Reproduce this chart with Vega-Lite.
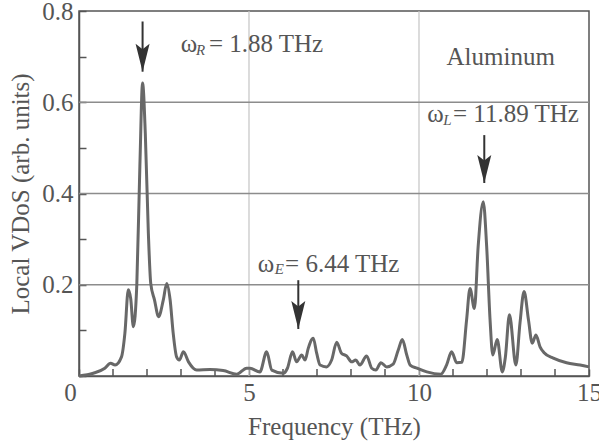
{
  "$schema": "https://vega.github.io/schema/vega-lite/v6.json",
  "width": 510,
  "height": 365,
  "autosize": "none",
  "padding": {"left": 79, "top": 11, "right": 10, "bottom": 72},
  "background": "white",
  "config": {
    "view": {"stroke": "#555555", "strokeWidth": 1.5},
    "font": "Liberation Serif",
    "axis": {
      "labelFont": "Liberation Serif",
      "titleFont": "Liberation Serif",
      "labelFontSize": 25,
      "titleFontSize": 25,
      "titleFontWeight": "normal",
      "labelColor": "#555555",
      "titleColor": "#555555",
      "domainColor": "#555555",
      "domainWidth": 1.5,
      "tickColor": "#555555",
      "tickWidth": 1.5,
      "labelOverlap": false,
      "grid": false
    }
  },
  "datasets": {
    "vdos": [
      {"f": 0, "v": 0}, {"f": 0.42, "v": 0.006}, {"f": 0.76, "v": 0.017}, {"f": 0.93, "v": 0.028},
      {"f": 1.06, "v": 0.024}, {"f": 1.25, "v": 0.042}, {"f": 1.35, "v": 0.094}, {"f": 1.45, "v": 0.189},
      {"f": 1.52, "v": 0.17}, {"f": 1.6, "v": 0.108}, {"f": 1.7, "v": 0.2}, {"f": 1.79, "v": 0.459},
      {"f": 1.87, "v": 0.642}, {"f": 1.95, "v": 0.532}, {"f": 2.04, "v": 0.313}, {"f": 2.11, "v": 0.203},
      {"f": 2.22, "v": 0.167}, {"f": 2.34, "v": 0.13}, {"f": 2.48, "v": 0.167}, {"f": 2.58, "v": 0.203},
      {"f": 2.68, "v": 0.167}, {"f": 2.77, "v": 0.094}, {"f": 2.87, "v": 0.042}, {"f": 2.95, "v": 0.035},
      {"f": 3.07, "v": 0.053}, {"f": 3.22, "v": 0.031}, {"f": 3.46, "v": 0.013}, {"f": 3.85, "v": 0.014},
      {"f": 4.24, "v": 0.012}, {"f": 4.64, "v": 0.004}, {"f": 4.93, "v": 0.017}, {"f": 5.03, "v": 0.017},
      {"f": 5.32, "v": 0.009}, {"f": 5.52, "v": 0.053}, {"f": 5.67, "v": 0.013}, {"f": 6.01, "v": 0.006},
      {"f": 6.13, "v": 0.017}, {"f": 6.28, "v": 0.053}, {"f": 6.4, "v": 0.031}, {"f": 6.55, "v": 0.046},
      {"f": 6.65, "v": 0.035}, {"f": 6.74, "v": 0.06}, {"f": 6.89, "v": 0.083}, {"f": 6.99, "v": 0.05},
      {"f": 7.09, "v": 0.024}, {"f": 7.28, "v": 0.02}, {"f": 7.43, "v": 0.035}, {"f": 7.58, "v": 0.074},
      {"f": 7.72, "v": 0.05}, {"f": 7.87, "v": 0.044}, {"f": 8.02, "v": 0.031}, {"f": 8.14, "v": 0.035},
      {"f": 8.26, "v": 0.024}, {"f": 8.46, "v": 0.044}, {"f": 8.61, "v": 0.017}, {"f": 8.73, "v": 0.013},
      {"f": 8.88, "v": 0.029}, {"f": 9.05, "v": 0.02}, {"f": 9.24, "v": 0.026}, {"f": 9.39, "v": 0.057},
      {"f": 9.51, "v": 0.08}, {"f": 9.64, "v": 0.046}, {"f": 9.74, "v": 0.024}, {"f": 9.94, "v": 0.017},
      {"f": 10.23, "v": 0.009}, {"f": 10.64, "v": 0.004}, {"f": 10.81, "v": 0.024}, {"f": 10.96, "v": 0.053},
      {"f": 11.11, "v": 0.029}, {"f": 11.26, "v": 0.03}, {"f": 11.4, "v": 0.123}, {"f": 11.5, "v": 0.192},
      {"f": 11.63, "v": 0.148}, {"f": 11.74, "v": 0.284}, {"f": 11.89, "v": 0.382}, {"f": 11.99, "v": 0.284},
      {"f": 12.09, "v": 0.123}, {"f": 12.17, "v": 0.046}, {"f": 12.3, "v": 0.08}, {"f": 12.45, "v": 0.009},
      {"f": 12.54, "v": 0.041}, {"f": 12.66, "v": 0.134}, {"f": 12.85, "v": 0.024}, {"f": 12.97, "v": 0.116},
      {"f": 13.09, "v": 0.185}, {"f": 13.22, "v": 0.123}, {"f": 13.33, "v": 0.072}, {"f": 13.44, "v": 0.09},
      {"f": 13.56, "v": 0.064}, {"f": 13.68, "v": 0.051}, {"f": 13.95, "v": 0.039}, {"f": 14.34, "v": 0.029},
      {"f": 14.74, "v": 0.024}, {"f": 15.0, "v": 0.02}
    ],
    "arrows": [
      {"f": 1.87, "top": 0.777, "tip": 0.667},
      {"f": 6.45, "top": 0.21, "tip": 0.103},
      {"f": 11.92, "top": 0.528, "tip": 0.423}
    ],
    "texts": [
      {"f": 2.99, "v": 0.711, "t": "ω", "kind": "main"},
      {"f": 3.44, "v": 0.704, "t": "R", "kind": "sub"},
      {"f": 3.82, "v": 0.711, "t": "= 1.88 THz", "kind": "main"},
      {"f": 5.26, "v": 0.228, "t": "ω", "kind": "main"},
      {"f": 5.76, "v": 0.224, "t": "E", "kind": "sub"},
      {"f": 6.06, "v": 0.228, "t": "= 6.44 THz", "kind": "main"},
      {"f": 10.24, "v": 0.557, "t": "ω", "kind": "main"},
      {"f": 10.71, "v": 0.55, "t": "L", "kind": "sub"},
      {"f": 11.0, "v": 0.557, "t": "= 11.89 THz", "kind": "main"},
      {"f": 10.81, "v": 0.682, "t": "Aluminum", "kind": "main"}
    ],
    "hgrid": [{"g": 0.2}, {"g": 0.4}, {"g": 0.6}],
    "vgrid": [{"g": 5}, {"g": 10}],
    "xminor": [{"g": 1}, {"g": 2}, {"g": 3}, {"g": 4}, {"g": 6}, {"g": 7}, {"g": 8}, {"g": 9},
               {"g": 11}, {"g": 12}, {"g": 13}, {"g": 14}]
  },
  "layer": [
    {
      "data": {"name": "vgrid"},
      "mark": {"type": "rule", "color": "#c4c4c4", "strokeWidth": 1.2},
      "encoding": {
        "x": {
          "field": "g", "type": "quantitative",
          "scale": {"domain": [0, 15], "nice": false},
          "axis": {
            "values": [0, 5, 10, 15],
            "format": "d",
            "labelOverlap": false,
            "labelBound": false,
            "tickSize": -7,
            "labelPadding": 11,
            "labelOffset": {"condition": {"test": "datum.value === 0", "value": -9}, "value": 0},
            "labelFlush": false,
            "title": "Frequency (THz)",
            "titlePadding": 9
          }
        }
      }
    },
    {
      "data": {"name": "hgrid"},
      "mark": {"type": "rule", "color": "#8c8c8c", "strokeWidth": 1.5},
      "encoding": {
        "y": {
          "field": "g", "type": "quantitative",
          "scale": {"domain": [0, 0.8], "nice": false},
          "axis": {
            "values": [0,0.05,0.1,0.15,0.2,0.25,0.3,0.35,0.4,0.45,0.5,0.55,0.6,0.65,0.7,0.75,0.8],
            "labelExpr": "datum.value > 0.01 && abs(datum.value * 5 - round(datum.value * 5)) < 0.001 ? format(datum.value, '.1f') : ''",
            "labelOverlap": false,
            "tickSize": -7,
            "labelPadding": 13,
            "title": "Local VDoS (arb. units)",
            "titlePadding": 8
          }
        }
      }
    },
    {
      "data": {"name": "xminor"},
      "mark": {"type": "tick", "orient": "vertical", "color": "#555555", "thickness": 1.5, "size": 7, "yOffset": -3.5, "opacity": 1},
      "encoding": {
        "x": {"field": "g", "type": "quantitative"},
        "y": {"datum": 0, "type": "quantitative"}
      }
    },
    {
      "data": {"name": "vdos"},
      "mark": {"type": "line", "color": "#686868", "strokeWidth": 3, "interpolate": "monotone"},
      "encoding": {
        "x": {"field": "f", "type": "quantitative"},
        "y": {"field": "v", "type": "quantitative"}
      }
    },
    {
      "data": {"name": "arrows"},
      "mark": {"type": "rule", "color": "#333333", "strokeWidth": 2},
      "encoding": {
        "x": {"field": "f", "type": "quantitative"},
        "y": {"field": "top", "type": "quantitative"},
        "y2": {"field": "tip"}
      }
    },
    {
      "data": {"name": "arrows"},
      "mark": {"type": "point", "filled": true, "color": "#333333", "opacity": 1, "size": 784, "strokeWidth": 0,
               "shape": "M0,0 L-0.5,-2 L0,-1.6 L0.5,-2 Z"},
      "encoding": {
        "x": {"field": "f", "type": "quantitative"},
        "y": {"field": "tip", "type": "quantitative"}
      }
    },
    {
      "data": {"name": "texts"},
      "transform": [{"filter": "datum.kind === 'main'"}],
      "mark": {"type": "text", "align": "left", "baseline": "alphabetic", "font": "Liberation Serif", "fontSize": 25, "color": "#555555"},
      "encoding": {
        "x": {"field": "f", "type": "quantitative"},
        "y": {"field": "v", "type": "quantitative"},
        "text": {"field": "t"}
      }
    },
    {
      "data": {"name": "texts"},
      "transform": [{"filter": "datum.kind === 'sub'"}],
      "mark": {"type": "text", "align": "left", "baseline": "alphabetic", "font": "Liberation Serif", "fontSize": 15, "fontStyle": "italic", "color": "#555555"},
      "encoding": {
        "x": {"field": "f", "type": "quantitative"},
        "y": {"field": "v", "type": "quantitative"},
        "text": {"field": "t"}
      }
    }
  ]
}
